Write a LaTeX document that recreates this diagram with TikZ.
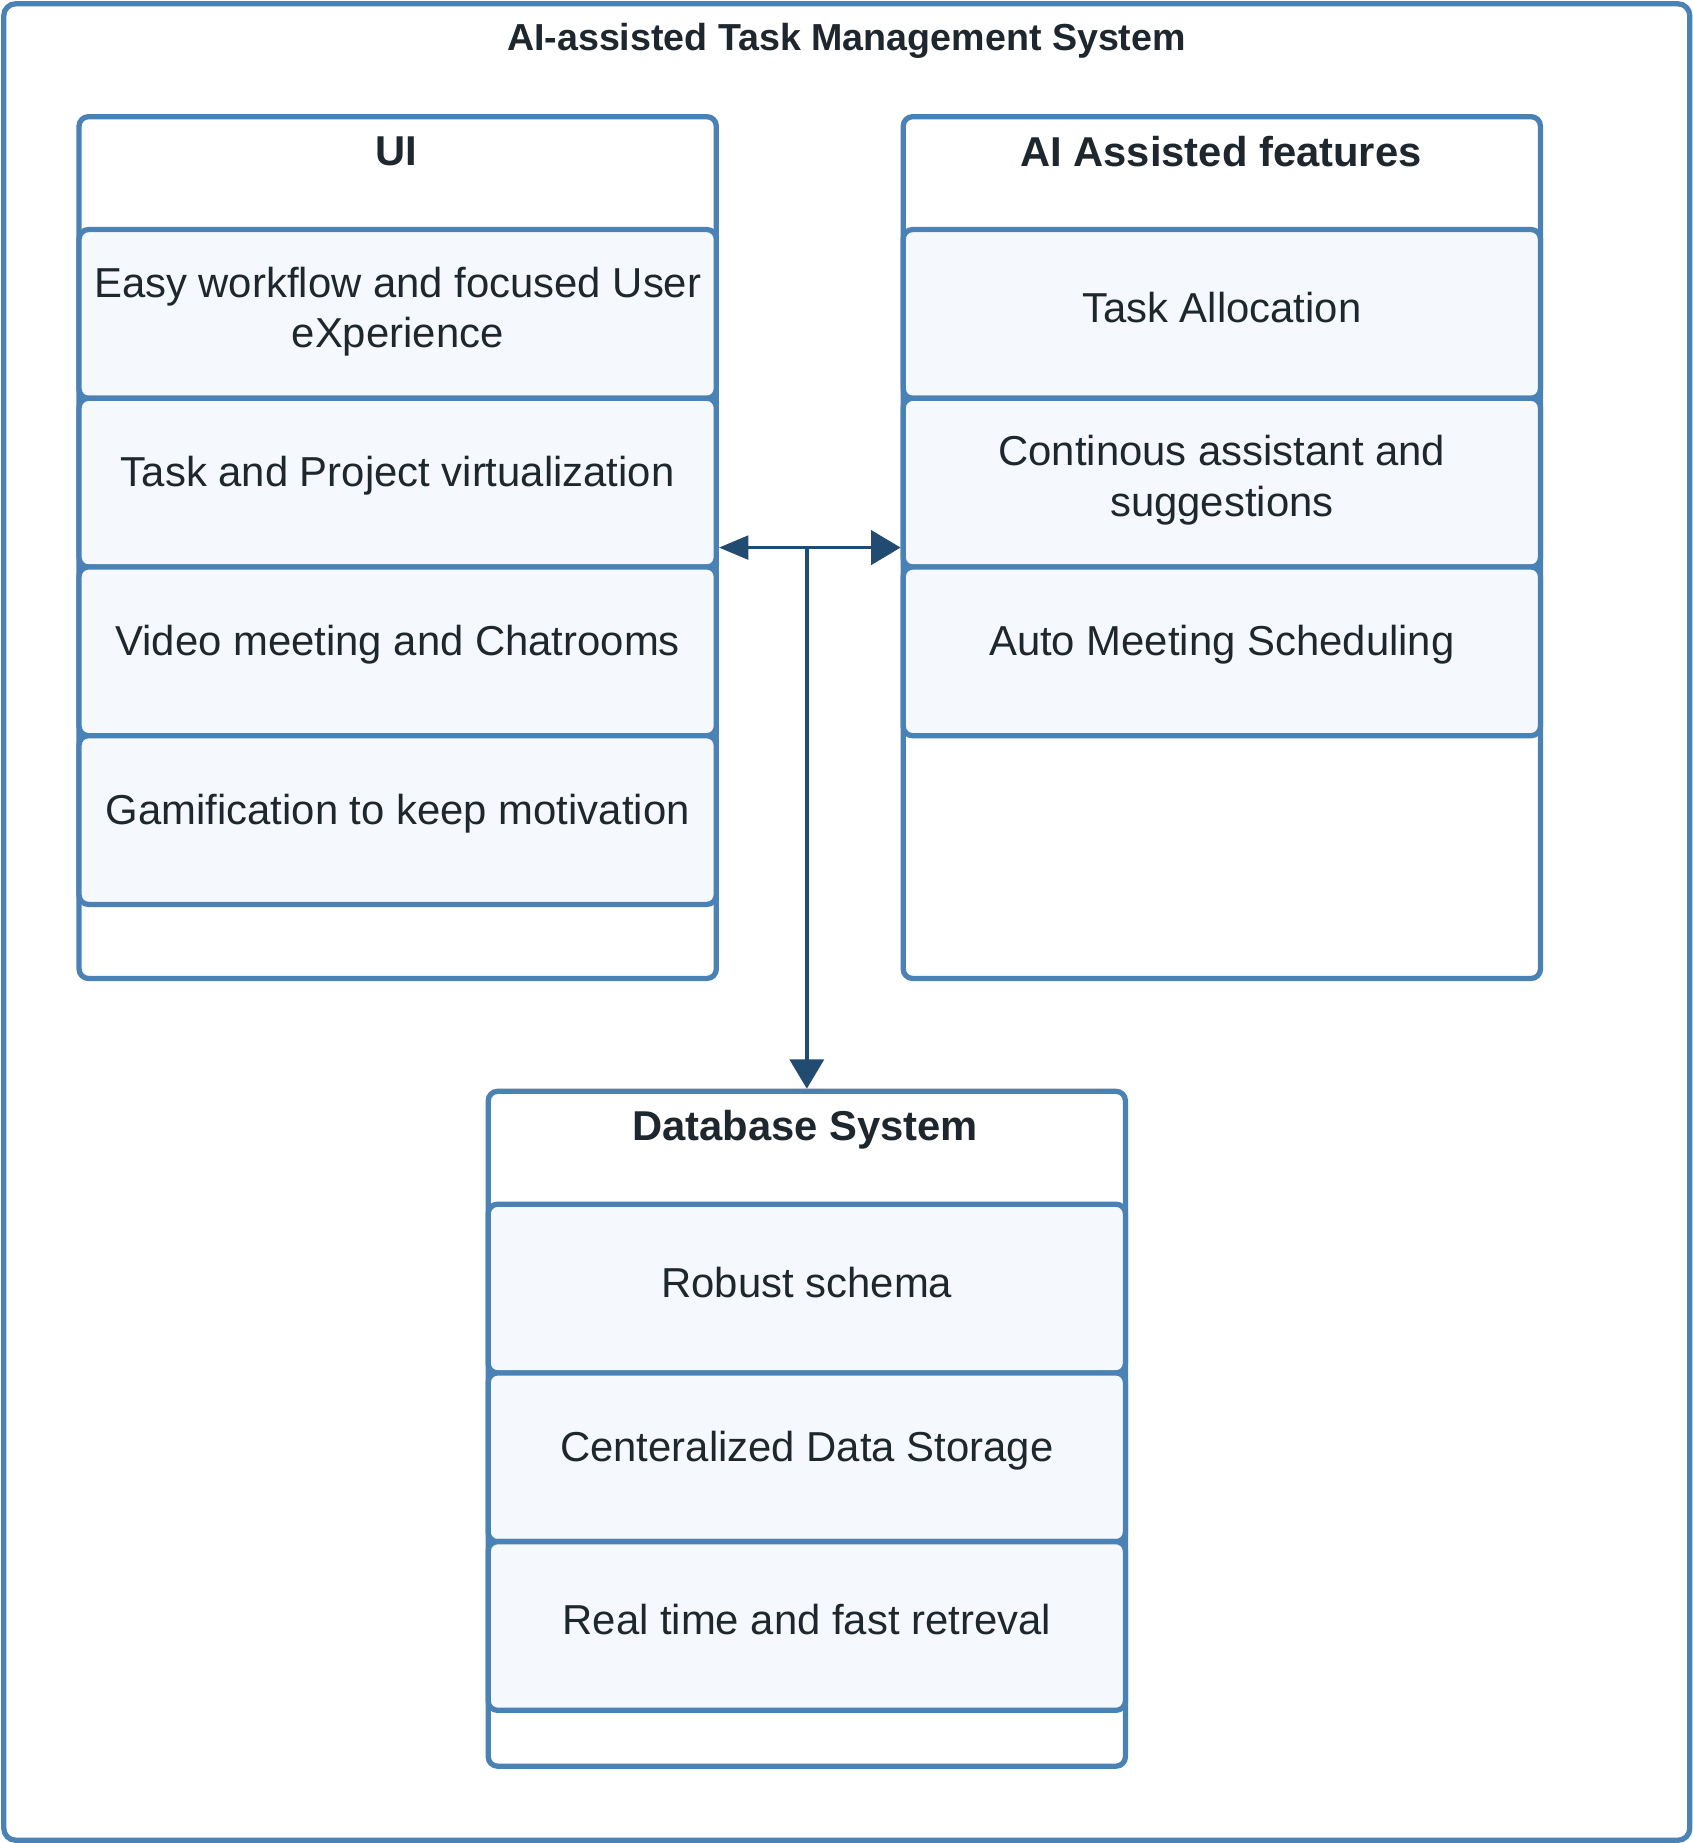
\documentclass[tikz,border=0pt]{standalone}
\usepackage{fontspec}
\setmainfont{Liberation Sans}
\usetikzlibrary{arrows.meta}
\definecolor{edge}{HTML}{4A82B6}
\definecolor{rowfill}{HTML}{F5F9FD}
\definecolor{ink}{HTML}{1E272E}
\definecolor{arrowc}{HTML}{224B72}
\tikzset{
  sysframe/.style={draw=edge, line width=4.5, rounded corners=10, fill=white, anchor=north west, inner sep=0, minimum width=1434, minimum height=1562},
  container/.style={draw=edge, line width=4.5, rounded corners=8, fill=white, anchor=north west, inner sep=0, minimum width=542},
  rowbox/.style={draw=edge, line width=4.5, rounded corners=8, fill=rowfill, anchor=north west, minimum width=542, minimum height=143.5, inner sep=0},
  rowtext/.style={align=center, text=ink, inner sep=0, font=\fontsize{35.6}{42.7}\selectfont},
  head/.style={text=ink, font=\bfseries\fontsize{35.5}{42}\selectfont},
  titletext/.style={text=ink, font=\bfseries\fontsize{32}{38}\selectfont},
  arr/.style={draw=arrowc, line width=3.2, -{Triangle[length=25,width=29]}},
  arrsmall/.style={draw=arrowc, line width=3.2, -{Triangle[length=25,width=20]}},
}
\begin{document}
\begin{tikzpicture}[x=1pt,y=-1pt]
\useasboundingbox (0,0) rectangle (1440,1567.6);
\begin{scope}[shift={(-2,-2)}]
\node[sysframe] (sys) at (3,3) {};
\node[titletext] (title) at (722,37) {AI-assisted Task Management System};

% UI
\node[container, minimum height=733] (ui) at (67,99) {};
\node[head] (uihead) at (339,131) {UI};
\node[rowbox] (ui1) at (67,195) {};
\node[rowtext] at ([yshift=2]ui1.center) {Easy workflow and focused User\\eXperience};
\node[rowbox] (ui2) at (67,338.5) {};
\node[rowtext] at ([yshift=5.5]ui2.center) {Task and Project virtualization};
\node[rowbox] (ui3) at (67,482) {};
\node[rowtext] at ([yshift=5.5]ui3.center) {Video meeting and Chatrooms};
\node[rowbox] (ui4) at (67,625.5) {};
\node[rowtext] at ([yshift=5.5]ui4.center) {Gamification to keep motivation};

% AI
\node[container, minimum height=733] (ai) at (768,99) {};
\node[head] (aihead) at (1040.5,131) {AI Assisted features};
\node[rowbox] (ai1) at (768,195) {};
\node[rowtext] at ([yshift=5.5]ai1.center) {Task Allocation};
\node[rowbox] (ai2) at (768,338.5) {};
\node[rowtext] at ([yshift=2]ai2.center) {Continous assistant and\\suggestions};
\node[rowbox] (ai3) at (768,482) {};
\node[rowtext] at ([yshift=5.5]ai3.center) {Auto Meeting Scheduling};

% DB
\node[container, minimum height=574] (db) at (415,928) {};
\node[head] (dbhead) at (687,963) {Database System};
\node[rowbox] (db1) at (415,1024) {};
\node[rowtext] at ([yshift=5.5]db1.center) {Robust schema};
\node[rowbox] (db2) at (415,1167.5) {};
\node[rowtext] at ([yshift=5.5]db2.center) {Centeralized Data Storage};
\node[rowbox] (db3) at (415,1311) {};
\node[rowtext] at ([yshift=5.5]db3.center) {Real time and fast retreval};

% connectors
\coordinate (j) at (ui.east -| db.north);
\draw[arrsmall] (j) -- (ui.east);
\draw[arr] (j) -- (ai.west);
\draw[arr] (j) -- (db.north);
\end{scope}
\end{tikzpicture}
\end{document}
